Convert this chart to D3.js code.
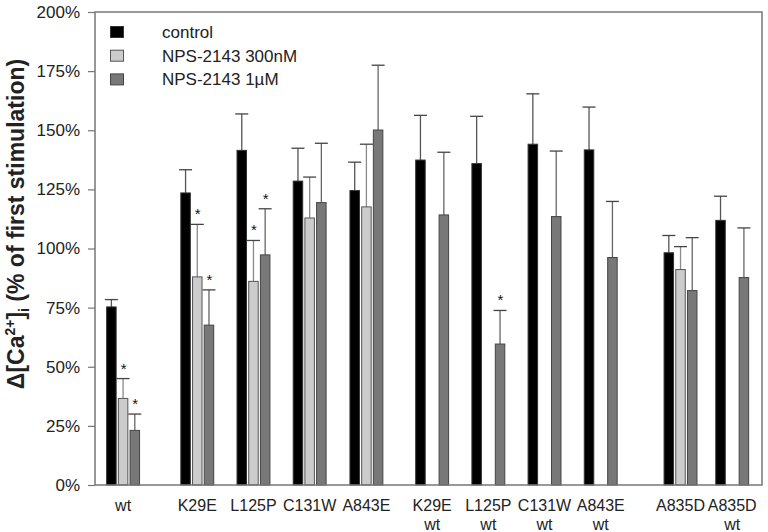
<!DOCTYPE html>
<html>
<head>
<meta charset="utf-8">
<script src="https://cdn.jsdelivr.net/npm/d3@7"></script>
<style>
  body { margin: 0; background: #fff; }
  text { font-family: "Liberation Sans", Arial, sans-serif; }
</style>
</head>
<body>
<div id="chart"></div>
<script>
// groups along the x axis (first line / second line of label)
const labels1 = ["wt", "K29E", "L125P", "C131W", "A843E", "K29E", "L125P", "C131W", "A843E", "A835D", "A835D"];
const labels2 = ["", "", "", "", "", "wt", "wt", "wt", "wt", "", "wt"];
// x position of each group (chart units, gaps between blocks)
const groupSlot = [0, 1.32, 2.32, 3.32, 4.33, 5.5, 6.5, 7.5, 8.5, 9.92, 10.84];

// % of first stimulation, mean and error
const control    = [75.3, 123.5, 141.5, 128.5, 124.5, 137.4, 135.9, 144.1, 141.7, 98.2, 111.9];
const controlErr = [3.1, 9.8, 15.4, 13.9, 12.0, 18.9, 20.0, 21.3, 18.1, 7.3, 10.2];
const nps300     = [36.6, 88.0, 86.1, 112.9, 117.6, null, null, null, null, 91.1, null];
const nps300Err  = [8.4, 22.2, 17.3, 17.3, 26.5, null, null, null, null, 9.7, null];
const nps1       = [23.1, 67.6, 97.3, 119.4, 150.1, 114.2, 59.6, 113.5, 96.2, 82.2, 87.7];
const nps1Err    = [6.9, 14.9, 19.5, 25.1, 27.4, 26.5, 14.2, 27.7, 23.7, 22.4, 21.0];
// significance marks (*)
const sig300 = [true, true, true, false, false, false, false, false, false, false, false];
const sig1   = [true, true, true, false, false, false, true, false, false, false, false];

const seriesNames = ["control", "NPS-2143 300nM", "NPS-2143 1µM"];
const yTicks = [0, 25, 50, 75, 100, 125, 150, 175, 200];

const width = 768, height = 532;
const margin = {top: 12, right: 6, bottom: 47, left: 95};

const svg = d3.select("#chart").append("svg")
    .attr("width", width)
    .attr("height", height);

const x = d3.scaleLinear()
    .domain([-0.5, 11.37])
    .range([margin.left, width - margin.right]);
const y = d3.scaleLinear()
    .domain([0, 200])
    .range([height - margin.bottom, margin.top]);

const barW = 9.5, barStep = 11.7;
const fills = ["#000000", "#cccccc", "#787878"];
const strokes = ["#333333", "#555555", "#444444"];
const errColors = ["#555555", "#8a8a8a", "#666666"];

// build rows: one per bar
const series = [
  {vals: control, errs: controlErr, sig: null},
  {vals: nps300, errs: nps300Err, sig: sig300},
  {vals: nps1, errs: nps1Err, sig: sig1}
];
const bars = [];
series.forEach((s, si) => {
  s.vals.forEach((v, gi) => {
    if (v == null) return;
    bars.push({si, gi, v, e: s.errs[gi], sig: s.sig ? s.sig[gi] : false,
               cx: x(groupSlot[gi]) + (si - 1) * barStep});
  });
});

// y axis
const yAxis = svg.append("g")
    .attr("transform", `translate(${margin.left},0)`)
    .call(d3.axisLeft(y).tickValues(yTicks).tickFormat(d => d + "%").tickSize(7).tickPadding(8).tickSizeOuter(0));
yAxis.select(".domain").remove();
yAxis.selectAll("line").attr("stroke", "#777").attr("stroke-width", 1.2);
yAxis.selectAll("text").attr("font-size", 17).attr("fill", "#222")
    .style("font-family", "'Liberation Sans', Arial, sans-serif");

// error bars
const eb = svg.append("g");
bars.forEach(d => {
  const c = errColors[d.si];
  eb.append("line")
      .attr("x1", d.cx).attr("x2", d.cx)
      .attr("y1", y(d.v)).attr("y2", y(d.v + d.e))
      .attr("stroke", c).attr("stroke-width", 1.3);
  eb.append("line")
      .attr("x1", d.cx - 6.5).attr("x2", d.cx + 6.5)
      .attr("y1", y(d.v + d.e)).attr("y2", y(d.v + d.e))
      .attr("stroke", "#444").attr("stroke-width", 1.3);
});

// bars
svg.append("g").selectAll("rect")
  .data(bars)
  .join("rect")
    .attr("x", d => d.cx - barW / 2)
    .attr("y", d => y(d.v))
    .attr("width", barW)
    .attr("height", d => y(0) - y(d.v))
    .attr("fill", d => fills[d.si])
    .attr("stroke", d => strokes[d.si])
    .attr("stroke-width", 1);

// stars
svg.append("g").selectAll("text")
  .data(bars.filter(d => d.sig))
  .join("text")
    .attr("x", d => d.cx + 0.5)
    .attr("y", d => y(d.v + d.e) - 5)
    .attr("text-anchor", "middle")
    .attr("font-size", 15)
    .attr("fill", "#111")
    .text("*");

// frame
svg.append("rect")
    .attr("x", margin.left).attr("y", margin.top)
    .attr("width", width - margin.left - margin.right)
    .attr("height", height - margin.top - margin.bottom)
    .attr("fill", "none").attr("stroke", "#777").attr("stroke-width", 1.5);

// x labels
const xl = svg.append("g").selectAll("text")
  .data(labels1)
  .join("text")
    .attr("text-anchor", "middle")
    .attr("font-size", 16)
    .attr("fill", "#222");
xl.append("tspan")
    .attr("x", (d, i) => x(groupSlot[i]))
    .attr("y", 511)
    .text(d => d);
xl.append("tspan")
    .attr("x", (d, i) => x(groupSlot[i]))
    .attr("y", 530)
    .text((d, i) => labels2[i]);

// legend
const lg = svg.append("g").selectAll("g")
  .data(seriesNames)
  .join("g")
    .attr("transform", (d, i) => `translate(110,${38 + i * 23.7})`);
lg.append("rect")
    .attr("x", 0.5).attr("y", -11.5)
    .attr("width", 13).attr("height", 11)
    .attr("fill", (d, i) => fills[i])
    .attr("stroke", (d, i) => strokes[i]);
lg.append("text")
    .attr("x", 52).attr("y", 0)
    .attr("font-size", 17)
    .attr("fill", "#222")
    .text(d => d);

// y axis title
const yt = svg.append("text")
    .attr("transform", "translate(24,224) rotate(-90)")
    .attr("text-anchor", "middle")
    .attr("font-size", 23)
    .attr("font-weight", "bold")
    .attr("fill", "#222");
yt.append("tspan").text("Δ[Ca");
yt.append("tspan").attr("font-size", 14).attr("dy", -9).text("2+");
yt.append("tspan").attr("dy", 9).text("]");
yt.append("tspan").attr("font-size", 14).attr("dy", 5).text("i");
yt.append("tspan").attr("dy", -5).text(" (% of first stimulation)");
</script>
</body>
</html>
